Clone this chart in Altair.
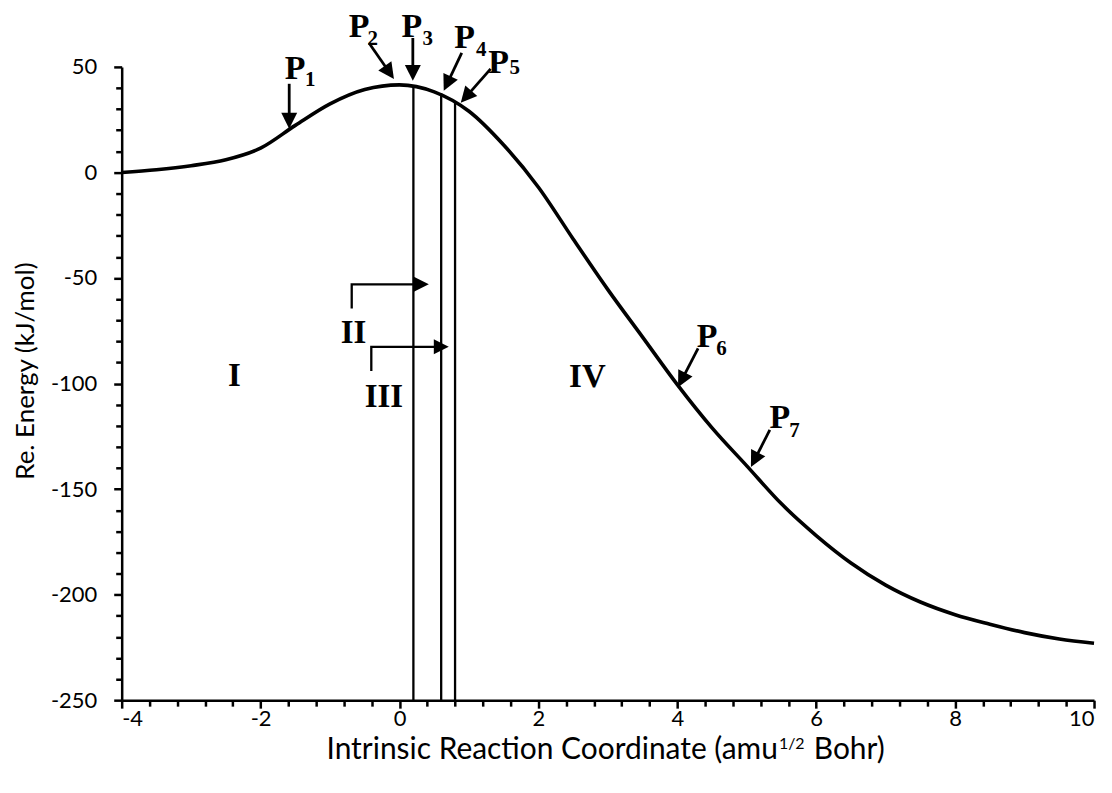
import math
import altair as alt
import pandas as pd

# ---------------- data ----------------
irc = [-4, -3.5, -3, -2.5, -2, -1.5, -1, -0.5, 0, 0.5, 1, 1.5, 2, 2.5, 3, 3.5,
       4, 4.5, 5, 5.5, 6, 6.5, 7, 7.5, 8, 8.5, 9, 9.5, 10]
energy = [0, 1.3, 3.2, 6.0, 11.5, 22.3, 32.5, 39.3, 41.5, 38.2, 29.0, 13.0, -7.0,
          -31.5, -55.5, -78.0, -100.5, -121.0, -139.0, -157.0, -172.0, -185.0,
          -195.5, -203.5, -209.5, -214.0, -218.0, -221.0, -223.0]

# vertical separators (region boundaries)
rule_x = [0.2, 0.6, 0.8]
rule_top = [41.0, 37.5, 33.5]
rule_bottom = [-250, -250, -250]

# P-point arrows: start (x0, y0) -> tip (x1, y1)
p_sub = ["1", "2", "3", "4", "5", "6", "7"]
arrow_x0 = [-1.588, -0.439, 0.192, 0.896, 1.312, 4.299, 5.332]
arrow_y0 = [42.0, 61.3, 63.7, 56.6, 49.1, -83.3, -122.0]
arrow_x1 = [-1.588, -0.08, 0.192, 0.637, 0.882, 4.011, 5.060]
arrow_y1 = [20.7, 44.3, 43.4, 38.7, 33.0, -101.7, -139.5]
p_label_x = [-1.502, -0.583, 0.178, 0.939, 1.427, 4.428, 5.476]
p_label_y = [44.3, 64.2, 64.2, 59.0, 47.2, -82.8, -121.1]
p_sub_x = [-1.36, -0.46, 0.33, 1.10, 1.585, 4.56, 5.61]
p_sub_y = [41.0, 60.6, 60.6, 55.2, 46.7, -86.6, -125.3]

# region labels
region_text = ["I", "II", "III", "IV"]
region_x = [-2.378, -0.662, -0.224, 2.705]
region_y = [-101.2, -80.9, -111.2, -101.7]

# bent arrows for II and III
bent_group = ["II", "II", "II", "III", "III", "III"]
bent_seq = [0, 1, 2, 0, 1, 2]
bent_x = [-0.688, -0.688, 0.422, -0.406, -0.406, 0.709]
bent_y = [-64.5, -53.0, -53.0, -94.1, -82.6, -82.6]

# axes
x_major = [-4, -2, 0, 2, 4, 6, 8, 10]
y_major = [-250, -200, -150, -100, -50, 0, 50]
x_ticks = [round(-4 + 0.4 * i, 1) for i in range(36)]
y_ticks = list(range(-250, 51, 10))

# ---------------- layout ----------------
W, H = 975, 635
XD = [-4, 10]
YD = [-250, 50]
kx = W / (XD[1] - XD[0])
ky = H / (YD[1] - YD[0])

AXF = "Lato"
SERIF = "Liberation Serif"

# arrow geometry in pixel space
HEAD = 16
rows = []
for i in range(len(p_sub)):
    dx = (arrow_x1[i] - arrow_x0[i]) * kx
    dy = -(arrow_y1[i] - arrow_y0[i]) * ky
    L = math.hypot(dx, dy)
    ang = math.degrees(math.atan2(dx, -dy)) % 360
    back = HEAD - 3
    xe = arrow_x1[i] - dx / L * back / kx
    ye = arrow_y1[i] + dy / L * back / ky
    rows.append({"x0": arrow_x0[i], "y0": arrow_y0[i], "xe": xe, "ye": ye,
                 "x1": arrow_x1[i], "y1": arrow_y1[i], "ang": ang})
arrows = pd.DataFrame(rows)

BHEAD = 15
bent = pd.DataFrame({"g": bent_group, "s": bent_seq, "x": bent_x, "y": bent_y})
bent_heads = bent[bent["s"] == 2].copy()
bent_heads["ang"] = 90.0
bent_lines = bent.copy()
last = bent_lines["s"] == 2
bent_lines.loc[last, "x"] = bent_lines.loc[last, "x"] - (BHEAD - 3) / kx

xs = alt.Scale(domain=XD, nice=False, zero=False)
ys = alt.Scale(domain=YD, nice=False, zero=False)

is_x_major = "abs(datum.value/2 - round(datum.value/2)) < 0.001"
is_y_major = "abs(datum.value/50 - round(datum.value/50)) < 0.001"
LFS = 22

x_axis = alt.Axis(
    values=x_ticks, title=None, grid=False,
    labelExpr=f"{is_x_major} ? '' + round(datum.value) : ''",
    labelOverlap=False, labelFont=AXF, labelFontSize=LFS, labelColor="black",
    labelPadding=0,
    tickSize={"condition": {"test": is_x_major, "value": 8}, "value": 6},
    tickWidth=2.5, tickColor="black", domainWidth=2.5, domainColor="black",
)
y_axis = alt.Axis(
    values=y_ticks, title="Re. Energy (kJ/mol)", grid=False,
    labelExpr=f"{is_y_major} ? '' + round(datum.value) : ''",
    labelOverlap=False, labelFont=AXF, labelFontSize=LFS, labelColor="black",
    labelPadding=17,
    tickSize={"condition": {"test": is_y_major, "value": 8}, "value": 6},
    tickWidth=2.5, tickColor="black", domainWidth=2.5, domainColor="black",
    titleFont=AXF, titleFontSize=26, titleFontWeight="normal", titleColor="black",
    titleAngle=270, titleX=-88, titleY=H / 2 - 13, titleAlign="center",
    titleBaseline="alphabetic",
)


def X(field):
    return alt.X(field, scale=xs, axis=x_axis)


def Y(field):
    return alt.Y(field, scale=ys, axis=y_axis)


curve_df = pd.DataFrame({"x": irc, "y": energy})
curve = alt.Chart(curve_df).mark_line(
    color="black", strokeWidth=3.6, interpolate="monotone"
).encode(x=X("x:Q"), y=Y("y:Q"))

vrules = alt.Chart(pd.DataFrame({"x": rule_x, "y": rule_bottom, "y2": rule_top})).mark_rule(
    color="black", strokeWidth=2.3
).encode(x=X("x:Q"), y=Y("y:Q"), y2="y2:Q")

shafts = alt.Chart(arrows).mark_rule(color="black", strokeWidth=2.8).encode(
    x=X("x0:Q"), y=Y("y0:Q"), x2="xe:Q", y2="ye:Q",
)

head_path = "M0,0L-0.5,1L0.5,1Z"
heads = alt.Chart(arrows).mark_point(
    shape=head_path, filled=True, color="black", opacity=1, strokeWidth=0,
    size=(2 * HEAD) ** 2,
).encode(x=X("x1:Q"), y=Y("y1:Q"), angle=alt.Angle("ang:Q", scale=None))

bents = alt.Chart(bent_lines).mark_line(
    color="black", strokeWidth=2.3, strokeJoin="miter", strokeCap="butt"
).encode(x=X("x:Q"), y=Y("y:Q"), detail="g:N", order="s:Q")

bheads = alt.Chart(bent_heads).mark_point(
    shape=head_path, filled=True, color="black", opacity=1, strokeWidth=0,
    size=(2 * BHEAD) ** 2,
).encode(x=X("x:Q"), y=Y("y:Q"), angle=alt.Angle("ang:Q", scale=None))

p_main = alt.Chart(pd.DataFrame({"x": p_label_x, "y": p_label_y, "t": ["P"] * 7})).mark_text(
    font=SERIF, fontWeight="bold", fontSize=34, align="center", baseline="alphabetic",
    color="black",
).encode(x=X("x:Q"), y=Y("y:Q"), text="t:N")

p_subs = alt.Chart(pd.DataFrame({"x": p_sub_x, "y": p_sub_y, "t": p_sub})).mark_text(
    font=SERIF, fontWeight="bold", fontSize=21, align="left", baseline="alphabetic",
    color="black",
).encode(x=X("x:Q"), y=Y("y:Q"), text="t:N")

regions = alt.Chart(pd.DataFrame({"x": region_x, "y": region_y, "t": region_text})).mark_text(
    font=SERIF, fontWeight="bold", fontSize=33, align="center", baseline="alphabetic",
    color="black",
).encode(x=X("x:Q"), y=Y("y:Q"), text="t:N")

# x-axis title with superscript pieces
TS = 30
anchor = 658
one = pd.DataFrame({"a": [0]})
xt1 = alt.Chart(one).mark_text(
    text="Intrinsic Reaction Coordinate (amu", font=AXF, fontSize=TS,
    align="right", baseline="alphabetic", color="black",
).encode(x=alt.value(anchor), y=alt.value(H + 59))
xt2 = alt.Chart(one).mark_text(
    text="1/2", font=AXF, fontSize=16, align="left", baseline="alphabetic",
    color="black",
).encode(x=alt.value(anchor + 1), y=alt.value(H + 49))
xt3 = alt.Chart(one).mark_text(
    text="Bohr)", font=AXF, fontSize=TS, align="left", baseline="alphabetic",
    color="black",
).encode(x=alt.value(anchor + 36), y=alt.value(H + 59))

chart = alt.layer(
    curve, vrules, shafts, heads, bents, bheads, p_main, p_subs, regions, xt1, xt2, xt3
).properties(
    width=W, height=H,
    padding={"left": 114, "top": 58, "right": 10, "bottom": 85},
    autosize=alt.AutoSizeParams(type="none"),
    background="white",
).configure_view(stroke=None)

chart.save("out.html", embed_options={"renderer": "svg", "actions": False})
